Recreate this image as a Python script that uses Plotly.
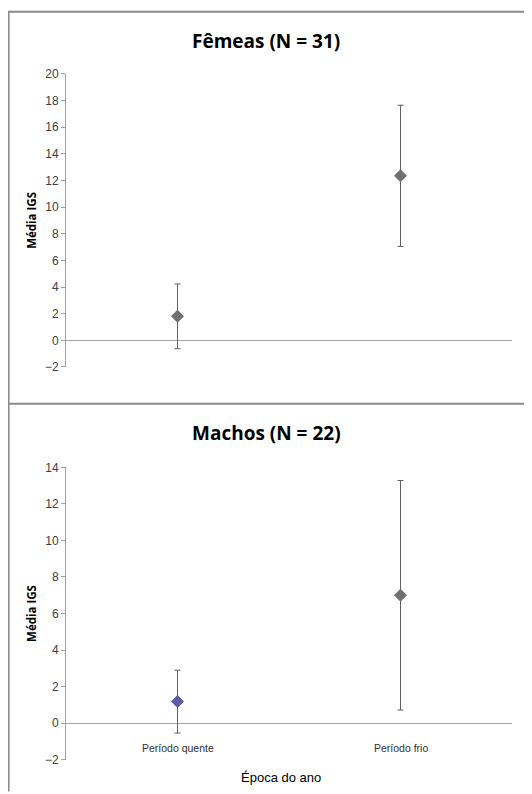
import plotly.graph_objects as go

categories = ["Período quente", "Período frio"]
femeas_mean = [1.8, 12.35]
femeas_err = [2.43, 5.3]
machos_mean = [1.18, 7.0]
machos_err = [1.72, 6.28]
femeas_ticks = [-2, 0, 2, 4, 6, 8, 10, 12, 14, 16, 18, 20]
machos_ticks = [-2, 0, 2, 4, 6, 8, 10, 12, 14]
titles = ["Fêmeas (N = 31)", "Machos (N = 22)"]
ytitle = "Média IGS"
xtitle = "Época do ano"

FONT = "Liberation Sans Narrow, Liberation Sans, Arial, sans-serif"
TFONT = "Open Sans, Liberation Sans, sans-serif"
GREY = "#707070"
ERR = "#606060"

OFF = 8
W, H = 532 - 2 * OFF, 792


def px(x):
    return (x - OFF) / W


def py(y):
    # target picture y -> paper y (with measured vertical correction)
    s = (y - 5) / 0.9855
    return 1 - (s - OFF) / H


fig = go.Figure()
fig.add_trace(go.Scatter(
    x=categories, y=femeas_mean, mode="markers",
    marker=dict(symbol="diamond", size=10, color=GREY),
    error_y=dict(type="data", array=femeas_err, color=ERR, thickness=1, width=3),
    xaxis="x", yaxis="y", showlegend=False))
fig.add_trace(go.Scatter(
    x=categories, y=machos_mean, mode="markers",
    marker=dict(symbol="diamond", size=10, color=["#5c5ca6", GREY]),
    error_y=dict(type="data", array=machos_err, color=ERR, thickness=1, width=3),
    xaxis="x2", yaxis="y2", showlegend=False))

xdom = [px(66), px(512)]
ydom1 = [py(366), py(72)]
ydom2 = [py(760), py(466.7)]

common_x = dict(type="category", range=[-0.5, 1.5], showline=False, showticklabels=False,
                showgrid=False, zeroline=False, ticks="", domain=xdom)
common_y = dict(showline=True, linecolor="#a0a0a0", linewidth=1, ticks="outside",
                ticklen=4, tickcolor="#a0a0a0", showgrid=False, zeroline=True,
                zerolinecolor="#a0a0a0", zerolinewidth=1,
                tickfont=dict(family=FONT, size=12, color="#404040"),
                title=dict(text=ytitle, font=dict(family=TFONT, size=11.5, color="#000000", weight="bold"),
                           standoff=5))

fig.update_layout(
    width=W, height=H, margin=dict(l=0, r=0, t=0, b=0),
    paper_bgcolor="white", plot_bgcolor="white",
    xaxis=dict(common_x, anchor="y"),
    yaxis=dict(common_y, domain=ydom1, range=[-2, 20], tickvals=femeas_ticks, anchor="x"),
    xaxis2=dict(common_x, anchor="y2"),
    yaxis2=dict(common_y, domain=ydom2, range=[-2, 14], tickvals=machos_ticks, anchor="x2"),
)

# titles
tfont = dict(family=TFONT, size=19, color="#000000", weight="bold")
fig.add_annotation(text=titles[0], x=px(266), y=py(38.5), xref="paper", yref="paper",
                   xanchor="center", yanchor="middle", showarrow=False, font=tfont)
fig.add_annotation(text=titles[1], x=px(266), y=py(432), xref="paper", yref="paper",
                   xanchor="center", yanchor="middle", showarrow=False, font=tfont)

# category labels (bottom panel)
for c in categories:
    fig.add_annotation(text=c, x=c, y=-1.35, xref="x2", yref="y2", showarrow=False,
                       xanchor="center", yanchor="middle",
                       font=dict(family=FONT, size=10.5, color="#303030"))
fig.add_annotation(text=xtitle, x=px(281), y=py(778), xref="paper", yref="paper",
                   xanchor="center", yanchor="middle", showarrow=False,
                   font=dict(family=FONT, size=13, color="#000000"))

# frame lines
line = dict(color="#8a8a8a", width=2)
fig.add_shape(type="line", xref="paper", yref="paper", x0=0, x1=1, y0=py(9.5), y1=py(9.5), line=line)
fig.add_shape(type="line", xref="paper", yref="paper", x0=0.001, x1=0.001, y0=py(9.5), y1=py(792), line=line)
fig.add_shape(type="line", xref="paper", yref="paper", x0=0, x1=1, y0=py(403), y1=py(403), line=line)

fig.write_html("out.html")
